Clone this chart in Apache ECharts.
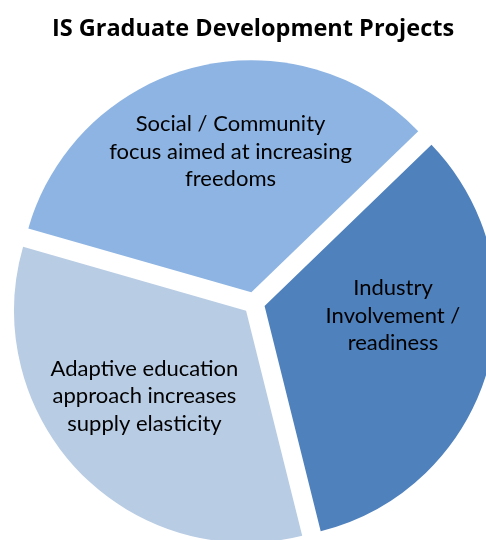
<!DOCTYPE html>
<html>
<head>
<meta charset="utf-8">
<script src="https://cdn.jsdelivr.net/npm/echarts@6/dist/echarts.min.js"></script>
<style>
  html, body { margin: 0; padding: 0; background: #ffffff; }
  #chart { width: 486px; height: 540px; }
</style>
</head>
<body>
<div id="chart"></div>
<script>
// Three project focus areas, given equal weight
const categories = [
  'Social / Community\nfocus aimed at increasing\nfreedoms',
  'Industry\nInvolvement /\nreadiness',
  'Adaptive education\napproach increases\nsupply elasticity'
];
const shares = [1, 1, 1];

// Slice fills and label nudges, in the same order as the categories
const sliceColors = ['#8DB4E2', '#4F81BD', '#B8CCE4'];
const labelNudges = [[8, -25], [14, -23], [-16, 3]];

const chart = echarts.init(document.getElementById('chart'), null, { renderer: 'canvas' });

chart.setOption({
  animation: false,
  backgroundColor: '#ffffff',
  title: {
    text: 'IS Graduate Development Projects',
    left: 248,
    textAlign: 'center',
    top: 12,
    textStyle: {
      fontFamily: 'Open Sans',
      fontWeight: 'bold',
      fontSize: 23.5,
      color: '#000000'
    }
  },
  series: [{
    type: 'pie',
    center: [254, 303],
    radius: [0, 232],
    startAngle: 164,
    clockwise: true,
    selectedMode: 'multiple',
    selectedOffset: 11,
    avoidLabelOverlap: false,
    itemStyle: { borderWidth: 0 },
    emphasis: { disabled: true },
    labelLine: { show: false },
    label: {
      show: true,
      position: 'inside',
      fontFamily: 'Lato',
      fontSize: 22,
      lineHeight: 27.5,
      color: '#000000',
      align: 'center',
      formatter: p => p.name
    },
    labelLayout: p => ({ dx: labelNudges[p.dataIndex][0], dy: labelNudges[p.dataIndex][1] }),
    data: categories.map((name, i) => ({
      name: name,
      value: shares[i],
      selected: true,
      itemStyle: { color: sliceColors[i] }
    }))
  }]
});
</script>
</body>
</html>
